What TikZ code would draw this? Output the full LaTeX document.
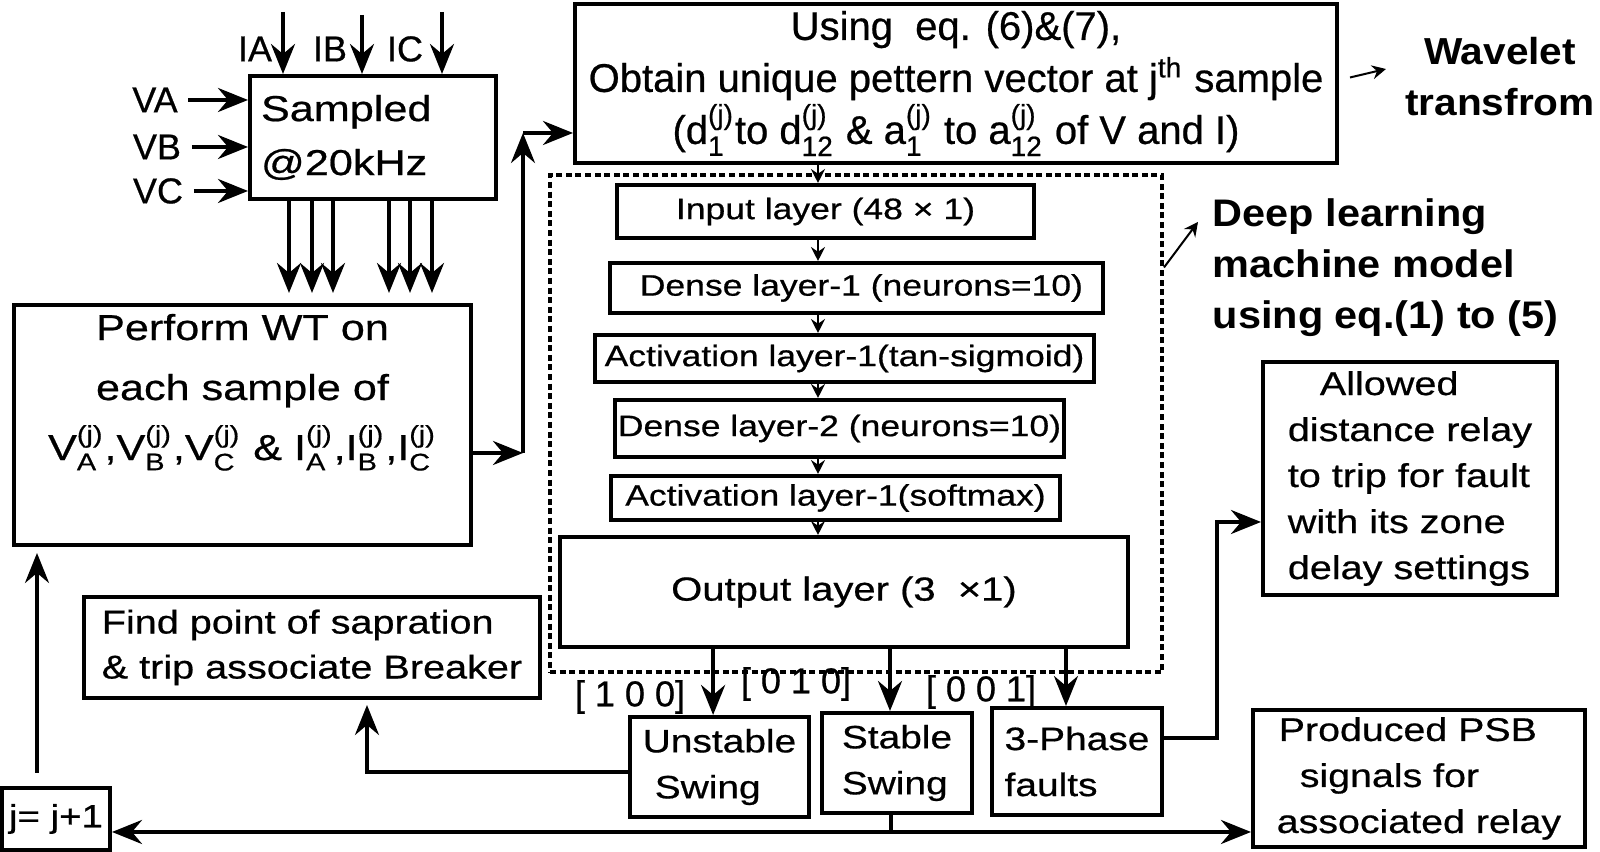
\documentclass[tikz,border=0pt]{standalone}
\usepackage{amsmath}
\usepackage{fontspec}
\setmainfont{Liberation Sans}[FakeStretch=1.2, FakeBold=0.6]
\newfontfamily\plainfont{Liberation Sans}[FakeBold=0.6]
\newfontfamily\heavyfont{Liberation Sans}[FakeStretch=1.08]
\usetikzlibrary{arrows.meta,positioning}
\tikzstyle{block} = [draw, line width=1pt, inner sep=0pt]
\tikzstyle{arrow} = [draw, line width=1pt, -{Stealth[length=7.5pt,width=6pt,inset=2.5pt]}]
\tikzstyle{small arrow} = [draw, line width=0.5pt, -{Stealth[length=3.5pt,width=3.5pt,inset=1.2pt]}]
\tikzstyle{dotbox} = [draw, line width=1pt, dash pattern=on 1.5pt off 0.9pt, inner sep=0pt]
\newcommand{\fsz}[2]{\fontsize{#1}{#2}\selectfont}
\newcommand{\smp}[2]{#1$^{\text{(j)}}_{\text{#2}}$}

\begin{document}
\begin{tikzpicture}[x=0.25pt, y=-0.25pt]
  \useasboundingbox (0,0) rectangle (1600,852);

  % sampling
  \node[block, minimum width=61.5pt, minimum height=30.75pt, text width=56pt, align=left, font=\fsz{9pt}{13.5pt}] (samp) at (373,137.5) {Sampled\\@20kHz};
  \node[font=\plainfont\fsz{9pt}{10pt}] (ia) at (255,49) {IA};
  \node[font=\plainfont\fsz{9pt}{10pt}] (ib) at (330,49) {IB};
  \node[font=\plainfont\fsz{9pt}{10pt}] (ic) at (405,49) {IC};
  \coordinate (iat) at (283,12);
  \coordinate (ibt) at (362,15);
  \coordinate (ict) at (442,12);
  \foreach \t in {iat,ibt,ict}
    \draw[arrow] (\t) -- (\t |- samp.north);
  \node[font=\plainfont\fsz{9pt}{10pt}, inner sep=2.5pt] (va) at (155,100) {VA};
  \node[font=\plainfont\fsz{9pt}{10pt}, inner sep=2.5pt] (vb) at (157,147) {VB};
  \node[font=\plainfont\fsz{9pt}{10pt}, inner sep=2.5pt] (vc) at (158,191) {VC};
  \foreach \v in {va,vb,vc}
    \draw[arrow] (\v.east) -- (\v.east -| samp.west);

  % wavelet transform
  \node[block, minimum width=114.25pt, minimum height=60pt, align=center, font=\fsz{9pt}{15pt}] (pwt) at (242.5,425)
    {Perform WT on\\each sample of\\\smp{V}{A},\smp{V}{B},\smp{V}{C} \& \smp{I}{A},\smp{I}{B},\smp{I}{C}\\[4pt]\mbox{}};
  \foreach \x in {289,312,333,389,410,432} {
    \coordinate (d) at (\x,0);
    \draw[arrow, shorten >=2.5pt] (samp.south -| d) -- (pwt.north -| d);
  }

  \node[block, minimum width=190.5pt, minimum height=39.75pt, align=center, font=\plainfont\fsz{10pt}{13pt}] (usg) at (956,83.5)
    {Using\ \ eq. (6)\&(7),\\Obtain unique pettern vector at j\textsuperscript{th} sample\\(d$^{\text{(j)}}_{\text{1}}$to d$^{\text{(j)}}_{\text{12}}$ \& a$^{\text{(j)}}_{\text{1}}$ to a$^{\text{(j)}}_{\text{12}}$ of V and I)};
  \coordinate (up1) at (523,453);
  \coordinate (up2) at (523,133);
  \draw[arrow] (pwt.east |- up1) -- (up1);
  \draw[arrow] (up1) -- (up2);
  \draw[arrow] (up2) -- (up2 -| usg.west);

  \node[font=\heavyfont\bfseries\fsz{9.4pt}{12.75pt}, align=center] (wav) at (1500,77) {Wavelet\\transfrom};
  \coordinate (wvt) at (1386,69);
  \draw[small arrow] ([shift={(2.75pt,1.5pt)}]usg.east) -- (wvt);

  % deep learning model
  \node[dotbox, minimum width=153pt, minimum height=124.25pt] (dl) at (856,423.5) {};
  \node[font=\heavyfont\bfseries\fsz{9.6pt}{12.75pt}, align=left, anchor=west, inner sep=0pt] (dpl) at (1212,268)
    {Deep learning\\machine model\\using eq.(1) to (5)};
  \coordinate (dlq) at (1198,222);
  \draw[small arrow] ([yshift=39pt]dl.east) -- (dlq);

  \node[block, minimum width=104.25pt, minimum height=13.25pt, font=\fsz{7.4pt}{9pt}] (inp) at (825.5,211.5) {Input layer (48 × 1)};
  \node[block, minimum width=123.25pt, minimum height=12.5pt, font=\fsz{7.4pt}{9pt}] (den1) at (856.5,288) {\ Dense layer-1 (neurons=10)};
  \node[block, minimum width=124.75pt, minimum height=11.75pt, font=\fsz{7.4pt}{9pt}] (act1) at (844.5,358.5) {Activation layer-1(tan-sigmoid)};
  \node[block, minimum width=112.25pt, minimum height=14.25pt, font=\fsz{7.4pt}{9pt}] (den2) at (839.5,428.5) {Dense layer-2 (neurons=10)};
  \node[block, minimum width=112.25pt, minimum height=11pt, font=\fsz{7.4pt}{9pt}] (act2) at (835.5,498) {Activation layer-1(softmax)};
  \node[block, minimum width=142pt, minimum height=27.5pt, font=\fsz{8.33pt}{10pt}] (outl) at (844,592) {Output layer (3\ \ ×1)};
  \coordinate (col) at (818,0);
  \foreach \a/\b in {usg/inp, inp/den1, den1/act1, act1/den2, den2/act2, act2/outl}
    \draw[small arrow] (\a.south -| col) -- (\b.north -| col);

  % decisions
  \node[block, minimum width=44.75pt, minimum height=25pt, align=left, font=\fsz{8.1pt}{11.5pt}] (uns) at (719.5,767) {Unstable\\\hspace{3pt}Swing};
  \node[block, minimum width=37.5pt, minimum height=25pt, align=left, font=\fsz{8.1pt}{11.5pt}] (stb) at (897,763) {Stable\\Swing};
  \node[block, minimum width=42.5pt, minimum height=26.75pt, align=left, font=\fsz{8.1pt}{11.5pt}] (tph) at (1077,761.5) {3-Phase\\faults};
  \draw[arrow] ([xshift=-1.6pt]outl.south -| uns.north) -- ([xshift=-1.6pt]uns.north);
  \draw[arrow] ([xshift=-1.75pt]outl.south -| stb.north) -- ([xshift=-1.75pt]stb.north);
  \draw[arrow] ([xshift=-2.75pt]outl.south -| tph.north) -- ([xshift=-2.75pt]tph.north);
  \node[font=\plainfont\fsz{9pt}{10pt}] (l1) at (630,697) {[ 1 0 0]};
  \node[font=\plainfont\fsz{9pt}{10pt}] (l2) at (796,684) {[ 0 1 0]};
  \node[font=\plainfont\fsz{9pt}{10pt}] (l3) at (981,692) {[ 0 0 1]};

  \node[block, minimum width=114pt, minimum height=25.25pt, align=left, font=\fsz{8.25pt}{11.25pt}] (find) at (312,647.5)
    {Find point of sapration\\\& trip associate Breaker};
  \coordinate (fc) at (367,0);
  \draw[arrow] ([yshift=-1.25pt]uns.west) -| ([yshift=-1.25pt]find.south -| fc);

  \node[block, minimum width=73.5pt, minimum height=58.25pt, align=left, font=\fsz{8.25pt}{11.5pt}] (alw) at (1410,478.5)
    {\hspace{8pt}Allowed\\distance relay\\to trip for fault\\with its zone\\delay settings};
  \coordinate (tp) at (1217,522);
  \draw[arrow] ([yshift=5.9pt]tph.east) -| (tp) -- (tp -| alw.west);

  \node[block, minimum width=83pt, minimum height=34.25pt, align=left, font=\fsz{8.2pt}{11.5pt}] (psb) at (1419,778.5)
    {\hspace{0.5pt}Produced PSB\\\hspace{5.75pt}signals for\\associated relay};

  % loop back
  \node[block, minimum width=27pt, minimum height=15.5pt, font=\fsz{8pt}{10pt}] (jb) at (56,819) {j= j+1};
  \coordinate (bj) at (891,832);
  \draw[line width=1pt] (stb.south -| bj) -- (bj);
  \draw[arrow] (bj) -- (bj -| jb.east);
  \draw[arrow] (bj) -- (bj -| psb.west);
  \coordinate (jc) at (37,0);
  \draw[arrow, shorten <=3.25pt, shorten >=1.5pt] (jb.north -| jc) -- (pwt.south -| jc);
\end{tikzpicture}
\end{document}
